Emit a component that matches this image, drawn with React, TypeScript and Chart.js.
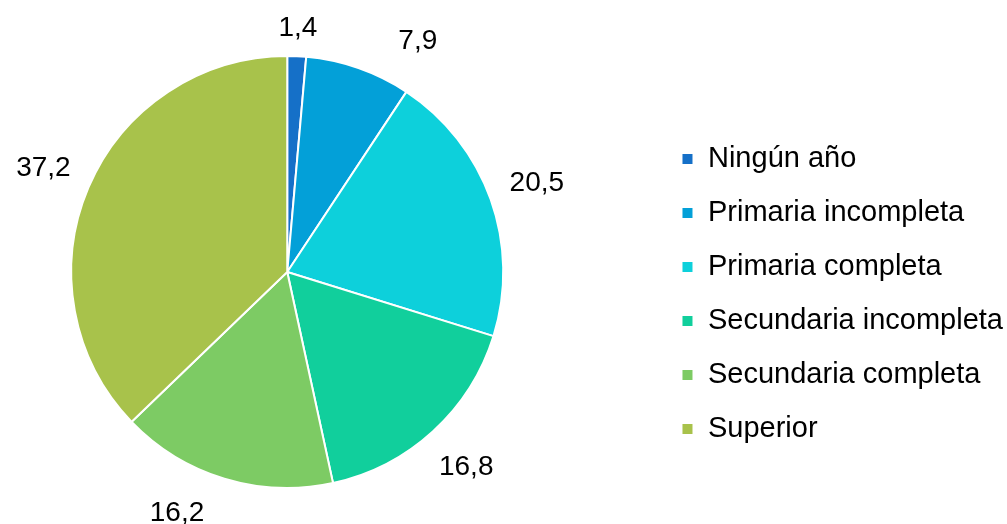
import React, { useEffect, useRef } from "react";
import { Chart, registerables } from "chart.js";

Chart.register(...registerables);

const categories = [
  "Ningún año",
  "Primaria incompleta",
  "Primaria completa",
  "Secundaria incompleta",
  "Secundaria completa",
  "Superior",
];
const values = [1.4, 7.9, 20.5, 16.8, 16.2, 37.2];
const valueLabels = ["1,4", "7,9", "20,5", "16,8", "16,2", "37,2"];
const colors = ["#1570C8", "#03A0D8", "#0DD0DB", "#11CF9C", "#7DCB64", "#A8C24B"];

const FONT = "'Liberation Sans', Arial, sans-serif";

// shift the plot area so the pie sits left of centre, and the legend to the right edge
const shiftArea = {
  id: "shiftArea",
  afterLayout(chart: any) {
    const ca = chart.chartArea;
    ca.left -= 72;
    ca.width = ca.right - ca.left;
    const lg = chart.legend;
    if (lg) {
      lg.left += 10;
      lg.right += 10;
    }
  },
};

const outsideLabels = {
  id: "outsideLabels",
  afterDatasetsDraw(chart: any) {
    const meta = chart.getDatasetMeta(0);
    const ctx = chart.ctx;
    ctx.save();
    ctx.font = `28px ${FONT}`;
    ctx.fillStyle = "#000";
    ctx.textAlign = "center";
    ctx.textBaseline = "middle";
    const minSep = (27 * Math.PI) / 180;
    let prev = -Infinity;
    meta.data.forEach((arc: any, i: number) => {
      const { x, y, startAngle, endAngle, outerRadius } = arc.getProps(
        ["x", "y", "startAngle", "endAngle", "outerRadius"],
        true
      );
      let a = (startAngle + endAngle) / 2;
      if (a < prev + minSep) a = prev + minSep;
      let r = outerRadius + 49;
      const top = 28;
      const bottom = chart.height - 11;
      if (y + r * Math.sin(a) < top) r = (top - y) / Math.sin(a);
      if (y + r * Math.sin(a) > bottom) {
        const s = (bottom - y) / r;
        const base = Math.asin(s);
        a = Math.cos(a) < 0 ? Math.PI - base : base;
      }
      prev = a;
      ctx.fillText(valueLabels[i], x + r * Math.cos(a), y + r * Math.sin(a));
    });
    ctx.restore();
  },
};

export default function App() {
  const ref = useRef<HTMLCanvasElement>(null);
  useEffect(() => {
    const chart = new Chart(ref.current!, {
      type: "pie",
      data: {
        labels: categories,
        datasets: [
          {
            data: values,
            backgroundColor: colors,
            borderColor: "#ffffff",
            borderWidth: 2,
            hoverOffset: 0,
          },
        ],
      },
      options: {
        animation: false,
        responsive: true,
        maintainAspectRatio: false,
        radius: 216,
        layout: { padding: { left: 0, right: 4, top: 56, bottom: 36 } },
        plugins: {
          tooltip: { enabled: false },
          legend: {
            position: "right",
            align: "center",
            title: {
              display: true,
              text: "",
              font: { size: 10, lineHeight: 1 },
              padding: { top: 34, bottom: 0 },
            },
            labels: {
              boxWidth: 12,
              boxHeight: 12,
              padding: 25,
              color: "#000",
              font: { size: 29, family: FONT },
            },
          },
        },
      } as any,
      plugins: [shiftArea, outsideLabels],
    });
    return () => chart.destroy();
  }, []);
  return (
    <div style={{ position: "fixed", left: 0, top: 0, width: 1007, height: 524, background: "#fff" }}>
      <canvas ref={ref} />
    </div>
  );
}
